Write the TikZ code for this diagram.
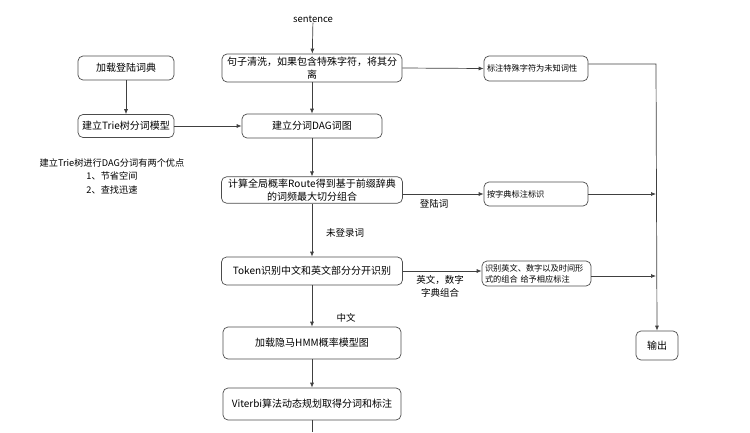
\documentclass[tikz,border=0pt]{standalone}
\usepackage{fontspec}
\setmainfont{Noto Sans CJK SC}
\usetikzlibrary{arrows.meta}
\tikzset{
  box/.style={draw=black!70, line width=0.7pt, rounded corners=5pt, align=center,
    font=\fontsize{10}{13}\selectfont, inner sep=2pt},
  sbox/.style={draw=black!70, line width=0.7pt, rounded corners=5pt, align=left,
    font=\fontsize{8.2}{12}\selectfont, inner sep=3pt, text width=#1},
  conn/.style={draw=black!75, line width=0.7pt, -{Latex[length=5pt,width=4pt]}},
  plain/.style={draw=black!75, line width=0.7pt},
  lbl/.style={font=\fontsize{9.5}{13}\selectfont, align=center, inner sep=0pt}
}
\begin{document}
\begin{tikzpicture}[x=1pt,y=-1pt]
\useasboundingbox (0,0) rectangle (750,432);
% main column
\node[lbl] (sent) at (313,19) {sentence};
\node[box, minimum width=180pt, minimum height=28pt] (s1) at (312,68)
  {句子清洗，如果包含特殊字符，将其分\\离};
\node[box, minimum width=96pt, minimum height=24pt] (dict) at (126,68) {加载登陆词典};
\node[box, minimum width=96pt, minimum height=23pt] (trie) at (126,126) {建立Trie树分词模型};
\node[box, minimum width=140pt, minimum height=24pt] (dag) at (312,126) {建立分词DAG词图};
\node[box, minimum width=181pt, minimum height=26pt] (route) at (312,190)
  {计算全局概率Route得到基于前缀辞典\\的词频最大切分组合};
\node[box, minimum width=181pt, minimum height=28pt] (token) at (312,271)
  {Token识别中文和英文部分分开识别};
\node[box, minimum width=178pt, minimum height=32pt] (hmm) at (312,343) {加载隐马HMM概率模型图};
\node[box, minimum width=178pt, minimum height=32pt] (vit) at (312,404) {Viterbi算法动态规划取得分词和标注};
\coordinate (bottom) at (312,432);
% right column
\node[sbox=98pt, minimum height=25pt] (r1) at (536,68.5) {标注特殊字符为未知词性};
\node[sbox=98pt, minimum height=24pt] (r2) at (536,194) {按字典标注标识};
\node[sbox=103pt, minimum height=25pt, font=\fontsize{8.2}{11}\selectfont] (r3) at (536.5,273.5)
  {识别英文、数字以及时间形\\式的组合 给予相应标注};
\node[box, minimum width=42pt, minimum height=29pt] (out) at (657,345.5) {输出};
\coordinate (c1) at (656,64);
\coordinate (c2) at (656,194);
\coordinate (c3) at (656,276);
% left note
\node[lbl, font=\fontsize{9.2}{13.5}\selectfont] (note) at (112,176)
  {建立Trie树进行DAG分词有两个优点\\1、节省空间\\2、查找迅速};
% labels
\node[lbl] (l1) at (434,204) {登陆词};
\node[lbl] (l2) at (345,233) {未登录词};
\node[lbl] (l3) at (440,286) {英文，数字\\字典组合};
\node[lbl] (l4) at (346,318) {中文};
% connectors
\draw[conn] (sent) -- (s1);
\draw[conn] (s1.east) -- (r1.west);
\draw[conn] (dict) -- (trie);
\draw[conn] (trie) -- (dag);
\draw[conn] (s1) -- (dag);
\draw[conn] (dag) -- (route);
\draw[conn] (route) -- (token);
\draw[conn] (token) -- (hmm);
\draw[conn] (hmm) -- (vit);
\draw[plain] (vit) -- (bottom);
\draw[conn] (route.east |- r2.west) -- (r2.west);
\draw[conn] (token.east) -- (token.east -| r3.west);
\draw[conn] (r1.east |- c1) -- (c1) -- (out.north);
\draw[conn] (r2.east) -- (c2);
\draw[conn] (r3.east |- c3) -- (c3);
\end{tikzpicture}
\end{document}
